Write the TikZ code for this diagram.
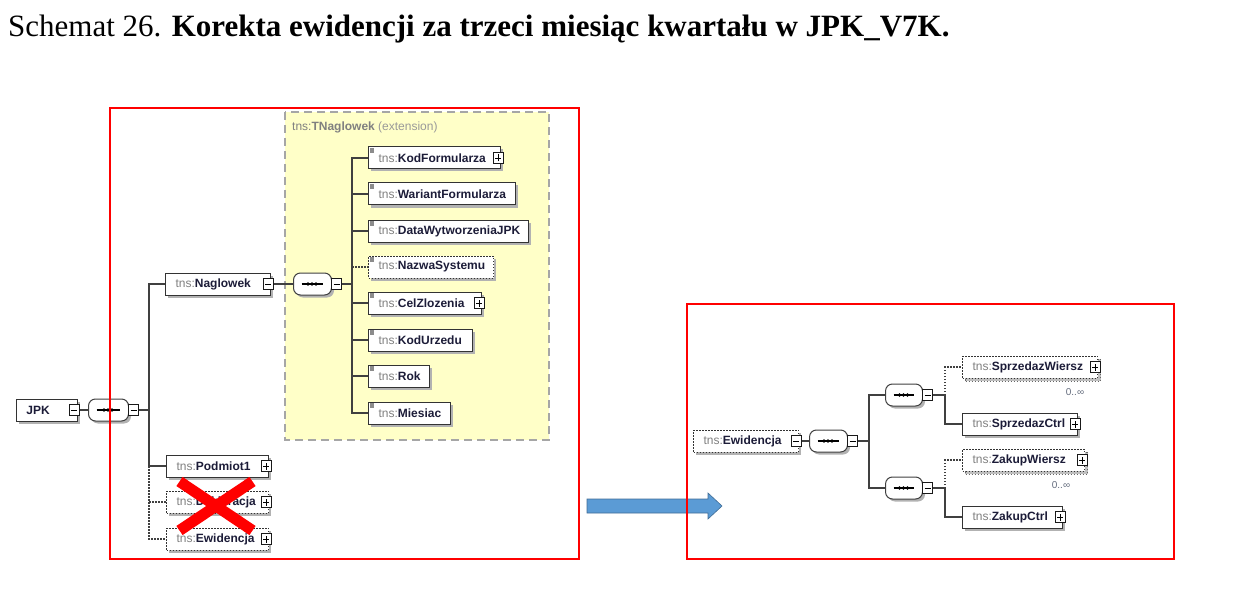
\documentclass[tikz,border=0pt]{standalone}
\usepackage{fontspec}
\setmainfont{Liberation Serif}
\newfontfamily\xsdfont{Liberation Sans}
\usetikzlibrary{shapes.misc,shadows}
\definecolor{tnsgray}{RGB}{128,128,128}
\definecolor{elname}{RGB}{28,28,56}
\definecolor{extyellow}{RGB}{255,255,200}
\definecolor{arrowblue}{RGB}{91,155,213}
\definecolor{multgray}{RGB}{100,108,125}
\newcommand{\tns}[1]{\mbox{\textcolor{tnsgray}{tns:}\textbf{\textcolor{elname}{#1}}}}
\begin{document}
\begin{tikzpicture}[x=1pt, y=-1pt,
  elem/.style={draw=black!80, fill=white, line width=1, anchor=west, minimum height=22,
    inner xsep=10, inner ysep=0, align=left, font=\xsdfont\fontsize{12}{14}\selectfont,
    drop shadow={shadow xshift=2.5pt, shadow yshift=-2.5pt, fill=black!30, opacity=1}},
  optional/.style={dash pattern=on 1.5pt off 1.5pt},
  multi/.style={copy shadow={shadow xshift=3pt, shadow yshift=-3pt, draw=black!60,
    dash pattern=on 1.5pt off 1.5pt, fill=black!25}},
  simple/.style={path picture={\fill[black!45] ([xshift=1pt,yshift=-1pt]path picture bounding box.north west) rectangle ++(4,5);}},
  btn/.style={draw=black!90, fill=white, line width=1, minimum width=10, minimum height=11, inner sep=0},
  minusbtn/.style={btn, path picture={\draw[black, line width=0.9] ([xshift=2pt]path picture bounding box.west) -- ([xshift=-2pt]path picture bounding box.east);}},
  plusbtn/.style={btn, path picture={\draw[black, line width=0.9] ([xshift=2pt]path picture bounding box.west) -- ([xshift=-2pt]path picture bounding box.east);
    \draw[black, line width=0.9] ([yshift=2pt]path picture bounding box.south) -- ([yshift=-2pt]path picture bounding box.north);}},
  seq/.style={rectangle, rounded corners=7pt, draw=black!75, fill=white, line width=1,
    minimum width=40, minimum height=22, inner sep=0, anchor=west,
    drop shadow={shadow xshift=2.5pt, shadow yshift=-2.5pt, fill=black!30, opacity=1},
    path picture={\draw[black, line width=1.2] ([xshift=8pt]path picture bounding box.west) -- ([xshift=-9pt]path picture bounding box.east);
      \fill[black] ([xshift=-4.5pt]path picture bounding box.center) circle[radius=1.8pt];
      \fill[black] ([xshift=-0.5pt]path picture bounding box.center) circle[radius=1.8pt];
      \fill[black] ([xshift=3.5pt]path picture bounding box.center) circle[radius=1.8pt];}},
  conn/.style={draw=black!75, line width=1.1},
  mult/.style={font=\xsdfont\fontsize{10}{12}\selectfont, text=multgray, inner sep=0}
]
\useasboundingbox (0,0) rectangle (1235,615);
\node[anchor=base west, inner sep=0, font=\fontsize{31}{36}\selectfont] (title) at (8,37)
  {Schemat 26. \textbf{Korekta ewidencji za trzeci miesiąc kwartału w JPK\_V7K.}};
% TNaglowek extension
\draw[fill=extyellow, draw=black!35, line width=1.4, dash pattern=on 8pt off 5pt] (285,112) rectangle (549,440);
\node[anchor=west, inner sep=0, font=\xsdfont\fontsize{12}{14}\selectfont] (ext) at (292,127)
  {\textcolor{tnsgray}{tns:\textbf{TNaglowek}} \textcolor{black!40}{(extension)}};
% left tree
\node[elem, text width=41] (jpk) at (16,410) {\textbf{\textcolor{elname}{JPK}}};
\node[minusbtn] (jpkb) at ([xshift=-4pt]jpk.east) {};
\node[seq] (seq1) at (88,410) {};
\node[minusbtn, anchor=west] (seq1b) at ([xshift=-1pt]seq1.east) {};
\coordinate (bus1) at (149,410);
\node[elem, text width=85] (nagl) at (165,284) {\tns{Naglowek}};
\node[minusbtn] (naglb) at ([xshift=-3pt]nagl.east) {};
\node[elem, text width=82] (podm) at (166,466) {\tns{Podmiot1}};
\node[plusbtn] (podmb) at ([xshift=-3pt]podm.east) {};
\node[elem, optional, text width=82] (dekl) at (166,502) {\tns{Deklaracja}};
\node[plusbtn] (deklb) at ([xshift=-3pt]dekl.east) {};
\node[elem, optional, text width=82] (ewid) at (166,539) {\tns{Ewidencja}};
\node[plusbtn] (ewidb) at ([xshift=-3pt]ewid.east) {};
\node[cross out, draw=red, line width=11, minimum width=62, minimum height=38, inner sep=0] (xmark) at (216,506) {};
\node[seq, minimum width=38] (seq2) at (293,284) {};
\node[minusbtn, anchor=west] (seq2b) at ([xshift=-1pt]seq2.east) {};
\coordinate (bus2) at (352,284);
\node[elem, simple, text width=112] (kodf) at (368,158) {\tns{KodFormularza}};
\node[plusbtn] (kodfb) at ([xshift=-3pt]kodf.east) {};
\node[elem, simple, text width=127] (wari) at (368,194) {\tns{WariantFormularza}};
\node[elem, simple, text width=140] (data) at (368,231) {\tns{DataWytworzeniaJPK}};
\node[elem, simple, optional, text width=105] (nazw) at (368,267) {\tns{NazwaSystemu}};
\node[elem, simple, text width=93] (celz) at (368,303) {\tns{CelZlozenia}};
\node[plusbtn] (celzb) at ([xshift=-3pt]celz.east) {};
\node[elem, simple, text width=84] (kodu) at (368,340) {\tns{KodUrzedu}};
\node[elem, simple, text width=41] (rok) at (368,376) {\tns{Rok}};
\node[elem, simple, text width=62] (mies) at (368,413) {\tns{Miesiac}};
\draw[conn] (jpkb.east) -- (seq1.west);
\draw[conn] (seq1b.east) -- (bus1);
\draw[conn] (nagl.west) -- (nagl.west -| bus1) -- (podm.west -| bus1) -- (podm.west);
\draw[conn, optional] (podm.west -| bus1) -- (ewid.west -| bus1) -- (ewid.west);
\draw[conn, optional] (dekl.west -| bus1) -- (dekl.west);
\draw[conn] (naglb.east) -- (seq2.west);
\draw[conn] (seq2b.east) -- (bus2);
\draw[conn] (kodf.west) -- (kodf.west -| bus2) -- (mies.west -| bus2) -- (mies.west);
\draw[conn] (wari.west -| bus2) -- (wari.west);
\draw[conn] (data.west -| bus2) -- (data.west);
\draw[conn, optional] (nazw.west -| bus2) -- (nazw.west);
\draw[conn] (celz.west -| bus2) -- (celz.west);
\draw[conn] (kodu.west -| bus2) -- (kodu.west);
\draw[conn] (rok.west -| bus2) -- (rok.west);
% arrow between the panels
\fill[arrowblue, draw=arrowblue!70!black, line width=0.6] (587,499) -- (708,499) -- (708,493) -- (722,506) -- (708,519) -- (708,513) -- (587,513) -- cycle;
% right tree
\node[elem, optional, text width=85] (rewid) at (693,441) {\tns{Ewidencja}};
\node[minusbtn] (rewidb) at ([xshift=-3pt]rewid.east) {};
\node[seq, minimum width=38] (seq3) at (809,441) {};
\node[minusbtn, anchor=west] (seq3b) at ([xshift=-1pt]seq3.east) {};
\coordinate (bus3) at (869,441);
\node[seq, minimum width=37] (seq4) at (885,395) {};
\node[minusbtn, anchor=west] (seq4b) at ([xshift=-1pt]seq4.east) {};
\node[seq, minimum width=37] (seq5) at (885,488) {};
\node[minusbtn, anchor=west] (seq5b) at ([xshift=-1pt]seq5.east) {};
\coordinate (bus4) at (945,395);
\node[elem, optional, multi, text width=115] (sprw) at (962,367) {\tns{SprzedazWiersz}};
\node[plusbtn] (sprwb) at ([xshift=-3pt]sprw.east) {};
\node[mult] (sprwm) at (1075,392) {0..∞};
\node[elem, text width=95] (sprc) at (962,424) {\tns{SprzedazCtrl}};
\node[plusbtn] (sprcb) at ([xshift=-3pt]sprc.east) {};
\node[elem, optional, multi, text width=102] (zakw) at (962,460) {\tns{ZakupWiersz}};
\node[plusbtn] (zakwb) at ([xshift=-3pt]zakw.east) {};
\node[mult] (zakwm) at (1061,485) {0..∞};
\node[elem, text width=80] (zakc) at (962,517) {\tns{ZakupCtrl}};
\node[plusbtn] (zakcb) at ([xshift=-3pt]zakc.east) {};
\draw[conn] (rewidb.east) -- (seq3.west);
\draw[conn] (seq3b.east) -- (bus3);
\draw[conn] (seq4.west) -- (seq4.west -| bus3) -- (seq5.west -| bus3) -- (seq5.west);
\draw[conn] (seq4b.east) -- (bus4) -- (sprc.west -| bus4) -- (sprc.west);
\draw[conn, optional] (bus4) -- (sprw.west -| bus4) -- (sprw.west);
\draw[conn] (seq5b.east) -- (seq5b.east -| bus4) -- (zakc.west -| bus4) -- (zakc.west);
\draw[conn, optional] (seq5b.east -| bus4) -- (zakw.west -| bus4) -- (zakw.west);
% red frames
\draw[red, line width=1.2] (110,108) rectangle (579,559);
\draw[red, line width=1.2] (687,304) rectangle (1174,559);
\end{tikzpicture}
\end{document}
